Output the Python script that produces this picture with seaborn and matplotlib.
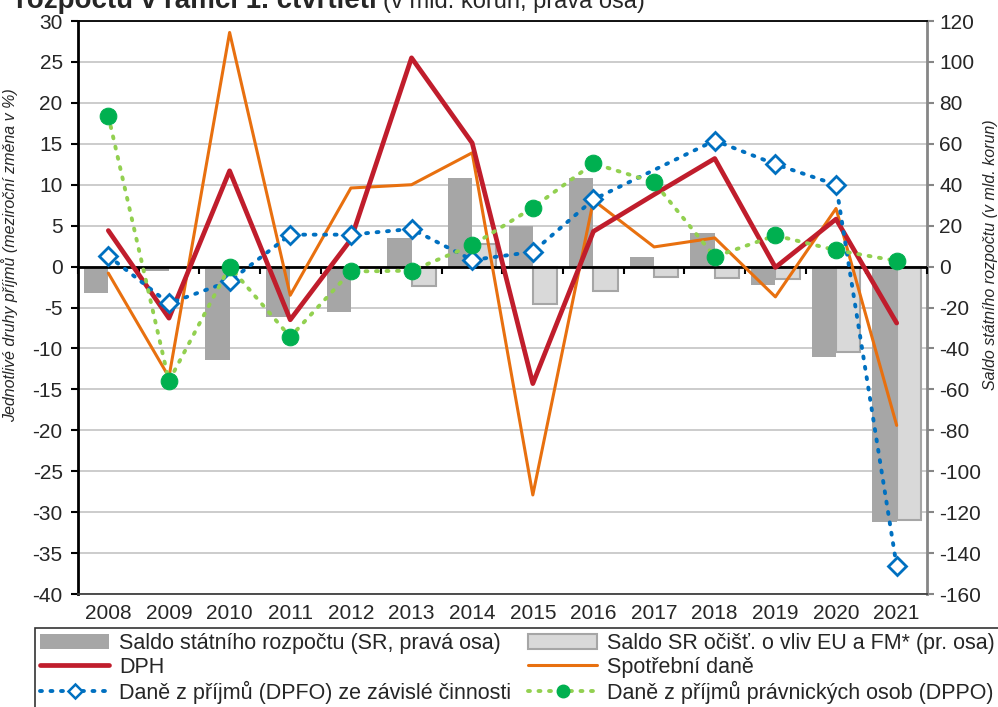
import numpy as np
import pandas as pd
import seaborn as sns
import matplotlib.pyplot as plt
from matplotlib.patches import Patch
from matplotlib.lines import Line2D

# ---- data ----
years = ["2008", "2009", "2010", "2011", "2012", "2013", "2014",
         "2015", "2016", "2017", "2018", "2019", "2020", "2021"]

# right axis, bn CZK
saldo_sr = [-13.1, -2.0, -45.7, -24.6, -22.4, 14.0, 43.4, 19.9, 43.5, 4.5, 16.3, -9.0, -44.0, -124.7]
saldo_ocist = [np.nan, np.nan, np.nan, np.nan, np.nan, -9.3, 11.0, -18.3, -11.9, -4.9, -5.4, -6.2, -41.6, -123.9]

# left axis, y/y %
dph = [4.4, -6.3, 11.7, -6.5, 3.3, 25.5, 15.1, -14.3, 4.3, 8.8, 13.2, -0.1, 5.8, -6.9]
spotrebni = [-0.8, -13.5, 28.6, -3.5, 9.6, 10.0, 13.9, -27.9, 8.1, 2.4, 3.5, -3.7, 7.1, -19.4]
dpfo = [1.3, -4.5, -1.8, 3.9, 3.9, 4.6, 0.8, 1.8, 8.2, 11.8, 15.4, 12.5, 10.0, -36.6]
dppo = [18.4, -14.0, 0.0, -8.6, -0.6, -0.5, 2.6, 7.2, 12.6, 10.3, 1.2, 3.8, 2.0, 0.7]

lbl_sr = "Saldo státního rozpočtu (SR, pravá osa)"
lbl_oc = "Saldo SR očišť. o vliv EU a FM* (pr. osa)"
lbl_dph = "DPH"
lbl_sd = "Spotřební daně"
lbl_dpfo = "Daně z příjmů (DPFO) ze závislé činnosti"
lbl_dppo = "Daně z příjmů právnických osob (DPPO)"

C_DARK = "#a6a6a6"
C_LIGHT = "#d9d9d9"
C_RED = "#c01d2c"
C_ORANGE = "#e8700f"
C_BLUE = "#0070c0"
C_LGREEN = "#92d050"
C_GREEN = "#00b050"

sns.set_theme(style="white")
plt.rcParams["font.family"] = ["Liberation Sans", "DejaVu Sans"]
plt.rcParams["axes.unicode_minus"] = False

fig = plt.figure(figsize=(9.98, 7.07), dpi=100)
ax = fig.add_axes([78 / 998, 1 - 594 / 707, (927 - 78) / 998, (594 - 21) / 707])
ax2 = ax.twinx()

# ---- bars on right axis ----
bars = pd.DataFrame({
    "year": years * 2,
    "value": saldo_sr + saldo_ocist,
    "series": [lbl_sr] * len(years) + [lbl_oc] * len(years),
})
sns.barplot(data=bars, x="year", y="value", hue="series", order=years,
            palette=[C_DARK, C_LIGHT], width=0.8, dodge=True, ax=ax2,
            legend=False, saturation=1)
light_rgb = plt.matplotlib.colors.to_rgb(C_LIGHT)
for p in ax2.patches:
    if np.allclose(p.get_facecolor()[:3], light_rgb):
        p.set_edgecolor(C_DARK)
        p.set_linewidth(1.5)
    else:
        p.set_edgecolor("none")

ax2.set_ylim(-160, 120)
ax2.set_yticks(np.arange(-160, 121, 20))
ax2.grid(axis="y", color="#c8c8c8", lw=1.3)
ax2.set_axisbelow(True)
ax2.set_ylabel("Saldo státního rozpočtu (v mld. korun)", fontsize=11.5,
               style="italic", rotation=90)
ax2.yaxis.set_label_position("right")
ax2.yaxis.set_label_coords(1.066, 0.592)
ax2.tick_params(axis="y", right=True, direction="out", length=5, width=1.5,
                color="#868686", labelsize=15, pad=4)
for s in ["left", "top", "bottom"]:
    ax2.spines[s].set_visible(False)
ax2.spines["right"].set_color("#868686")
ax2.spines["right"].set_linewidth(2)

# ---- lines on left axis ----
ax.set_zorder(ax2.get_zorder() + 1)
ax.patch.set_visible(False)
xi = np.arange(len(years))

ax.axhline(0, color="black", lw=2, zorder=1)

sns.lineplot(x=xi, y=spotrebni, ax=ax, color=C_ORANGE, lw=2.2, zorder=3)
sns.lineplot(x=xi, y=dph, ax=ax, color=C_RED, lw=3.4, zorder=4)
sns.lineplot(x=xi, y=dpfo, ax=ax, color=C_BLUE, lw=2.8, zorder=5,
             linestyle=(0, (0.5, 2.2)), dash_capstyle="round",
             marker="D", markersize=9, markerfacecolor="white",
             markeredgecolor=C_BLUE, markeredgewidth=2,
             markevery=[i for i in range(len(years)) if i != 9])
sns.lineplot(x=xi, y=dppo, ax=ax, color=C_LGREEN, lw=2.8, zorder=6,
             linestyle=(0, (0.5, 2.2)), dash_capstyle="round",
             marker="o", markersize=12, markerfacecolor=C_GREEN,
             markeredgecolor=C_GREEN)

ax.set_xlim(-0.5, len(years) - 0.5)
ax.set_ylim(-40, 30)
ax.set_yticks(np.arange(-40, 31, 5))
ax.set_xticks(xi)
ax.set_xticklabels(years)
ax.tick_params(axis="y", left=True, direction="out", length=5, width=1.5,
               color="black", labelsize=15, pad=6)
ax.tick_params(axis="x", bottom=False, labelsize=15, pad=1)
ax.set_ylabel("Jednotlivé druhy příjmů (meziroční změna v %)", fontsize=11.5,
              style="italic")
ax.yaxis.set_label_coords(-0.0707, 0.592)
ax.spines["right"].set_visible(False)
ax.spines["left"].set_color("black")
ax.spines["left"].set_linewidth(2)
ax.spines["top"].set_color("black")
ax.spines["top"].set_linewidth(1.3)
ax.spines["bottom"].set_color("#404040")
ax.spines["bottom"].set_linewidth(1.3)

# category tick marks on the zero line
sec = ax.secondary_xaxis(40 / 70)
sec.set_xticks(np.arange(len(years) + 1) - 0.5)
sec.xaxis.set_ticks_position("bottom")
sec.tick_params(axis="x", direction="out", length=5, width=1.5, color="black",
                labelbottom=False, labeltop=False)
for s in sec.spines.values():
    s.set_visible(False)

# ---- title (cut off at top as in the reference) ----
fig.text(377 / 998, 1 - 8 / 707, "rozpočtu v rámci 1. čtvrtletí", fontsize=20,
         fontweight="bold", va="baseline", ha="right")
fig.text(383 / 998, 1 - 8 / 707, "(v mld. korun, pravá osa)", fontsize=17,
         va="baseline", ha="left")

# ---- legend ----
handles = [
    Patch(facecolor=C_DARK, edgecolor="none", label=lbl_sr),
    Line2D([], [], color=C_RED, lw=3.4, label=lbl_dph),
    Line2D([], [], color=C_BLUE, lw=2.8, linestyle=(0, (0.5, 2.2)),
           dash_capstyle="round", marker="D", markersize=7,
           markerfacecolor="white", markeredgecolor=C_BLUE,
           markeredgewidth=1.8, label=lbl_dpfo),
    Patch(facecolor=C_LIGHT, edgecolor=C_DARK, lw=1.5, label=lbl_oc),
    Line2D([], [], color=C_ORANGE, lw=2.2, label=lbl_sd),
    Line2D([], [], color=C_LGREEN, lw=2.8, linestyle=(0, (0.5, 2.2)),
           dash_capstyle="round", marker="o", markersize=9,
           markerfacecolor=C_GREEN, markeredgecolor=C_GREEN, label=lbl_dppo),
]
leg = fig.legend(handles=handles, ncol=2, loc="upper left",
                 bbox_to_anchor=(35 / 998, 1 - 628 / 707), fontsize=15.5,
                 frameon=True, fancybox=False, edgecolor="black",
                 handlelength=3.2, handleheight=0.7, handletextpad=0.45,
                 columnspacing=0.8, labelspacing=0.12, borderpad=0.25,
                 borderaxespad=0)
leg.get_frame().set_linewidth(1.2)

fig.savefig("out.png", dpi=100)
